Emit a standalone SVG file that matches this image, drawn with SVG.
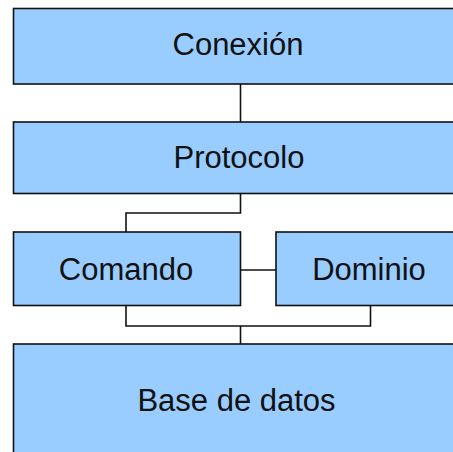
<svg xmlns="http://www.w3.org/2000/svg" width="453" height="452" viewBox="0 0 453 452">
<style>
.box{fill:#99CCFF;stroke:#111;stroke-width:1.6}
.lbl{font-family:"Liberation Sans",Arial,sans-serif;font-size:31px;fill:#111;text-anchor:middle}
.con{fill:none;stroke:#111;stroke-width:1.6}
</style>
<rect width="453" height="452" fill="#ffffff"/>
<g id="connectors">
<path class="con" d="M240.5 84V122"/>
<path class="con" d="M240.5 193.5V213H126V232"/>
<path class="con" d="M240.5 270H276"/>
<path class="con" d="M126 305.5V326H370.5V305.5"/>
<path class="con" d="M240.5 326V344"/>
</g>
<g id="conexion">
<rect class="box" x="13.5" y="8.5" width="453" height="75.5"/>
<text class="lbl" x="238" y="55">Conexión</text>
</g>
<g id="protocolo">
<rect class="box" x="13.5" y="122" width="453" height="71.5"/>
<text class="lbl" x="239" y="168">Protocolo</text>
</g>
<g id="comando">
<rect class="box" x="13.5" y="232" width="227" height="73.5"/>
<text class="lbl" x="126" y="280">Comando</text>
</g>
<g id="dominio">
<rect class="box" x="276" y="232" width="190" height="73.5"/>
<text class="lbl" x="369" y="280">Dominio</text>
</g>
<g id="base">
<rect class="box" x="13.5" y="344" width="453" height="130"/>
<text class="lbl" x="236.5" y="411">Base de datos</text>
</g>
</svg>
